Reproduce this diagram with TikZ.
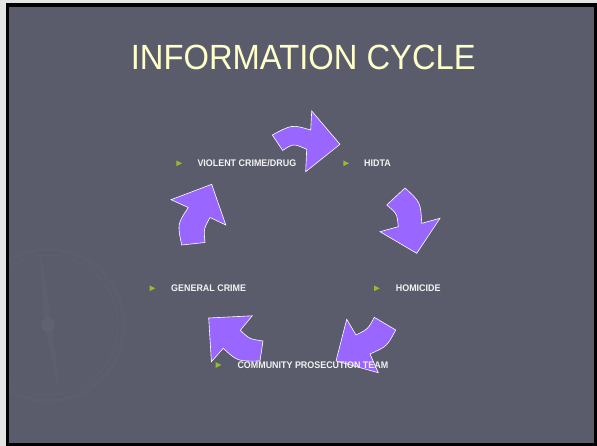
\documentclass[tikz,border=0pt]{standalone}
\usepackage{fontspec}
\setmainfont{Liberation Sans}
\definecolor{outerc}{HTML}{E4E4E4}
\definecolor{slidebg}{HTML}{5A5C6B}
\definecolor{arrowc}{HTML}{9966FF}
\definecolor{bulletc}{HTML}{99BB33}
\definecolor{titlec}{HTML}{FFFFCC}
\definecolor{labc}{HTML}{F2F2F2}
\definecolor{faintc}{HTML}{606270}
\begin{document}
\begin{tikzpicture}[x=1pt,y=-1pt,
  cyclearrow/.style={fill=arrowc,draw=white,line width=0.6pt,line join=miter},
  lab/.style={anchor=base west,inner sep=0pt,text=labc,font=\fontsize{9.6}{10}\selectfont\bfseries},
  bul/.pic={\fill[bulletc] (-2.6,-2.8) -- (3,0) -- (-2.6,2.8) -- cycle;}]
\useasboundingbox (0,0) rectangle (597,446);
\fill[outerc] (0,0) rectangle (597,446);
\fill[black] (6,3) rectangle (597,446);
\fill[slidebg] (9,7) rectangle (594,443);
% faint compass in background
\begin{scope}
  \clip (9,7) rectangle (594,443);
  \begin{scope}[faintc]
    \draw[line width=4pt,dash pattern=on 0.5pt off 1.2pt] (48,325) circle[radius=76];
    \draw[line width=0.5pt] (48,325) circle[radius=70];
    \fill (48,325) circle[radius=7];
    \fill[opacity=0.6] (40,250) -- (52,325) -- (60,395) -- (44,325) -- cycle;
  \end{scope}
\end{scope}
% title
\node[inner sep=0pt,anchor=base,text=titlec,font=\fontsize{35}{40}\selectfont] (title) at (303.3,69.3) {\scalebox{0.935}[1]{INFORMATION CYCLE}};
% arrow 1: violent crime -> hidta
\draw[cyclearrow] (272.3,135) .. controls (291.9,124.5) .. (310.7,130) -- (311.7,111) -- (340,144.3) -- (305.7,171.7) -- (306.7,149.3) .. controls (293.3,143.4) .. (282.7,150.5) -- cycle;
% arrow 2: hidta -> homicide
\draw[cyclearrow] (405,188) -- (386.7,205) .. controls (397,213.6) .. (398.3,226.7) -- (380,231.7) -- (416.7,253.3) -- (440,218.3) -- (421.7,223.3) .. controls (420.6,202.3) .. cycle;
% arrow 3: homicide -> community
\draw[cyclearrow] (374.3,317.3) -- (395.7,330) .. controls (387,346.4) .. (370,354) -- (378.3,372.7) -- (336,361) -- (346.7,319.3) -- (356,335) .. controls (368,329.1) .. cycle;
% arrow 4: community -> general
\draw[cyclearrow] (208.7,318) -- (252.2,315.8) -- (240.3,330.3) .. controls (249.5,339) .. (263,341) -- (260,361) .. controls (237.3,361.3) .. (223.3,348.3) -- (211.4,361.7) -- cycle;
% arrow 5: general -> violent crime
\draw[cyclearrow] (181.7,245) -- (205,242.5) .. controls (203.7,228.9) .. (210,217.5) -- (225.8,225) -- (211.7,184.3) -- (171,199.7) -- (188.3,207.5) .. controls (177.3,224.1) .. cycle;
% labels
\pic at (179,163.3) {bul};
\node[lab] (vcd) at (197.3,166.8) {\scalebox{0.93}[1]{VIOLENT CRIME/DRUG}};
\pic at (346,163.3) {bul};
\node[lab] (hidta) at (364,166.8) {\scalebox{0.93}[1]{HIDTA}};
\pic at (376.7,288.3) {bul};
\node[lab] (hom) at (395.7,291.8) {\scalebox{0.93}[1]{HOMICIDE}};
\pic at (218.3,365) {bul};
\node[lab] (cpt) at (237.3,368.5) {\scalebox{0.93}[1]{COMMUNITY PROSECUTION TEAM}};
\pic at (152.3,288.3) {bul};
\node[lab] (gen) at (171,291.8) {\scalebox{0.93}[1]{GENERAL CRIME}};
\end{tikzpicture}
\end{document}
